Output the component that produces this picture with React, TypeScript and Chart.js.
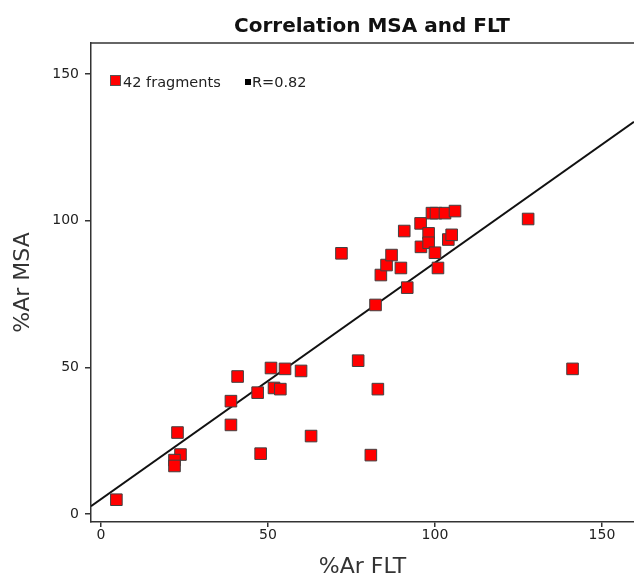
import React, { useEffect, useRef } from "react";
import { Chart, registerables } from "chart.js";

Chart.register(...registerables);

const fltValues = [
  4.6, 22.9, 23.8, 22.0, 22.0, 40.9, 38.9, 38.9, 46.9, 47.8, 50.9, 51.8, 53.7, 55.1,
  59.9, 62.9, 72.0, 77.0, 80.8, 82.2, 82.9, 83.8, 85.5, 87.0, 89.8, 90.8, 91.7, 95.7,
  95.8, 98.1, 98.1, 99.1, 100.3, 100.0, 100.9, 103.0, 104.0, 105.0, 106.0, 127.9, 141.2,
];
const msaValues = [
  4.9, 27.8, 20.3, 18.4, 16.4, 46.9, 38.5, 30.4, 41.4, 20.6, 49.8, 43.0, 42.6, 49.5,
  48.8, 26.6, 88.9, 52.3, 20.1, 71.3, 42.6, 81.5, 84.9, 88.3, 83.9, 96.5, 77.2, 99.1,
  91.1, 95.7, 92.5, 102.6, 102.6, 89.1, 83.9, 102.6, 93.6, 95.2, 103.3, 100.6, 49.5,
];
const fitSlope = 0.806;
const fitIntercept = 5.1;
const xTicks = [0, 50, 100, 150];
const yTicks = [0, 50, 100, 150];
const X_MIN = -3.0;
const X_MAX = 159.6;
const Y_MIN = -2.7;
const Y_MAX = 160.6;

const titleText = "Correlation MSA and FLT";
const seriesLabel = "42 fragments";
const fitLabel = "R=0.82";

const decorPlugin = {
  id: "decor",
  afterDraw(chart: any) {
    const { ctx, chartArea } = chart;
    ctx.save();
    ctx.strokeStyle = "#333";
    ctx.lineWidth = 1.5;
    ctx.beginPath();
    ctx.moveTo(chartArea.left, chartArea.top);
    ctx.lineTo(chartArea.right, chartArea.top);
    ctx.stroke();
    ctx.fillStyle = "#111";
    ctx.font = "bold 20px 'DejaVu Sans'";
    ctx.textAlign = "center";
    ctx.textBaseline = "alphabetic";
    ctx.fillText(titleText, 372, 32);
    ctx.fillStyle = "#ff0000";
    ctx.strokeStyle = "#555";
    ctx.lineWidth = 1;
    ctx.fillRect(110, 75, 11, 11);
    ctx.strokeRect(110.5, 75.5, 10, 10);
    ctx.fillStyle = "#222";
    ctx.font = "14.5px 'DejaVu Sans'";
    ctx.textAlign = "left";
    ctx.fillText(seriesLabel, 123, 86.5);
    ctx.fillStyle = "#000";
    ctx.fillRect(245, 79, 6, 6);
    ctx.fillStyle = "#222";
    ctx.fillText(fitLabel, 252, 86.5);
    ctx.restore();
  },
};

export default function App() {
  const ref = useRef<HTMLCanvasElement | null>(null);
  useEffect(() => {
    if (!ref.current) return;
    const points = fltValues.map((x, i) => ({ x, y: msaValues[i] }));
    const fitLine = [X_MIN, X_MAX].map((x) => ({ x, y: fitIntercept + fitSlope * x }));
    const chart = new Chart(ref.current, {
      type: "scatter",
      data: {
        datasets: [
          {
            label: seriesLabel,
            data: points,
            pointStyle: "rect",
            pointRadius: 8.2,
            pointHoverRadius: 8.2,
            backgroundColor: "#ff0000",
            borderColor: "#404040",
            borderWidth: 1,
            order: 0,
          },
          {
            type: "line",
            label: fitLabel,
            data: fitLine,
            borderColor: "#111",
            borderWidth: 2,
            pointRadius: 0,
            showLine: true,
            order: 1,
          } as any,
        ],
      },
      options: {
        animation: false,
        responsive: false,
        layout: { autoPadding: false, padding: { top: 43, right: 0, left: 0, bottom: 0 } },
        plugins: {
          legend: { display: false },
          tooltip: { enabled: false },
          title: { display: false },
        },
        scales: {
          x: {
            type: "linear",
            min: X_MIN,
            max: X_MAX,
            afterBuildTicks: (s: any) => {
              s.ticks = xTicks.map((v) => ({ value: v }));
            },
            afterFit: (s: any) => {
              s.height = 58;
              s.paddingRight = 0;
              s.paddingLeft = 0;
            },
            grid: { display: true, drawOnChartArea: false, drawTicks: true, tickLength: 5, color: "#333", lineWidth: 1.5 },
            border: { display: true, color: "#333", width: 1.5 },
            ticks: { color: "#222", font: { family: "'DejaVu Sans'", size: 14 }, padding: 0 },
            title: {
              display: true,
              text: "%Ar FLT",
              color: "#333",
              font: { family: "'DejaVu Sans'", size: 22 },
              padding: { top: 0, bottom: 0 },
            },
          },
          y: {
            type: "linear",
            min: Y_MIN,
            max: Y_MAX,
            afterBuildTicks: (s: any) => {
              s.ticks = yTicks.map((v) => ({ value: v }));
            },
            afterFit: (s: any) => {
              s.width = 91;
              s.paddingTop = 0;
              s.paddingBottom = 0;
            },
            grid: { display: true, drawOnChartArea: false, drawTicks: true, tickLength: 6, color: "#333", lineWidth: 1.5 },
            border: { display: true, color: "#333", width: 1.5 },
            ticks: { color: "#222", font: { family: "'DejaVu Sans'", size: 14 }, padding: 6 },
            title: {
              display: true,
              text: "%Ar MSA",
              color: "#333",
              font: { family: "'DejaVu Sans'", size: 22 },
              padding: { top: 10, bottom: 0 },
            },
          },
        },
      },
      plugins: [decorPlugin],
    });
    return () => chart.destroy();
  }, []);
  return (
    <div style={{ position: "absolute", left: 0, top: 0, width: 634, height: 580, background: "#fff" }}>
      <canvas ref={ref} width={634} height={580} style={{ display: "block" }} />
    </div>
  );
}
